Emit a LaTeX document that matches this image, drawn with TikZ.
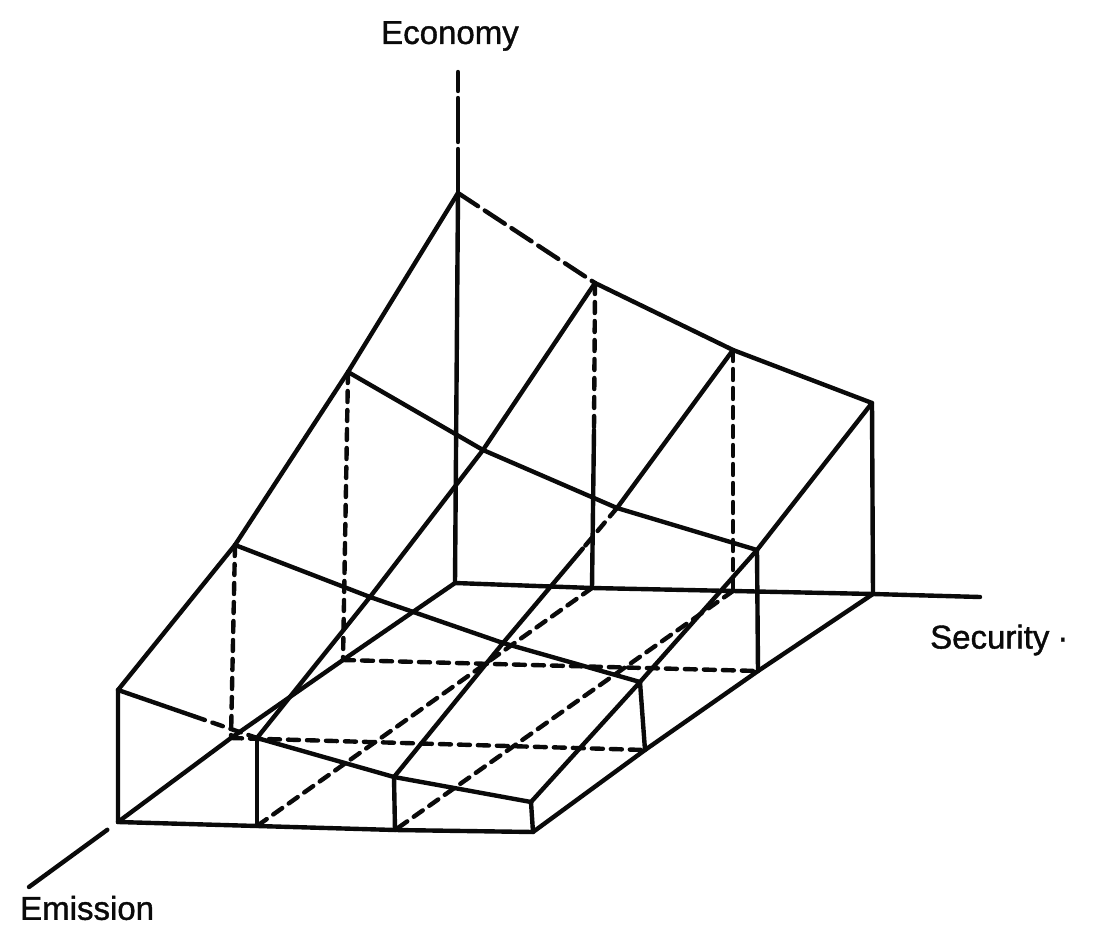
\documentclass[tikz,border=0pt]{standalone}
\usepackage{fontspec}
\setmainfont{Liberation Sans}
\newfontfamily\lblfont{Liberation Sans}[RawFeature={embolden=1.2}]
\definecolor{InkBlack}{HTML}{0A0A0A}
\usetikzlibrary{calc}

\begin{document}
\begin{tikzpicture}[
    x=1pt, y=-1pt,
    wire/.style={draw=InkBlack, line width=4.4pt, line cap=round, line join=round},
    hid/.style={wire, dash pattern=on 11pt off 8pt},
    longhid/.style={wire, dash pattern=on 24pt off 8pt},
    lbl/.style={font=\lblfont\fontsize{33}{36}\selectfont, text=InkBlack, inner sep=0pt, anchor=west}
  ]
  \useasboundingbox (0,0) rectangle (1093,936);

  % floor grid
  \coordinate (f00) at (455,583);
  \coordinate (f01) at (592,588);
  \coordinate (f02) at (733,591);
  \coordinate (f03) at (873,594);
  \coordinate (f10) at (343,660);
  \coordinate (f13) at (758,671);
  \coordinate (f20) at (231,738);
  \coordinate (f23) at (645,750);
  \coordinate (f30) at (118,822);
  \coordinate (f31) at (257,826);
  \coordinate (f32) at (395,830);
  \coordinate (f33) at (533,832);
  % top surface
  \coordinate (t00) at (458,193);
  \coordinate (t01) at (595,283);
  \coordinate (t02) at (733,350);
  \coordinate (t03) at (872,403);
  \coordinate (t10) at (348,372);
  \coordinate (t11) at (483,450);
  \coordinate (t12) at (617,508);
  \coordinate (t13) at (757,550);
  \coordinate (t20) at (235,545);
  \coordinate (t21) at (370,597);
  \coordinate (t22) at (503,643);
  \coordinate (t23) at (640,682);
  \coordinate (t30) at (118,690);
  \coordinate (t31) at (257,738);
  \coordinate (t32) at (394,777);
  \coordinate (t33) at (531,802);
  % axis ends and breaks
  \coordinate (econtop) at (458,72);
  \coordinate (sectop) at (980,597);
  \coordinate (emisend) at (29,887);
  \coordinate (emis0) at ($(f30)!0.12!(emisend)$);
  \coordinate (v01) at (594,430);
  \coordinate (m12) at ($(t12)!0.3!(t22)$);
  \coordinate (m30) at ($(t30)!0.55!(t31)$);

  % axes
  \draw[wire, dash pattern=on 44pt off 7pt] (t00) -- (econtop);
  \draw[wire] (f00) -- (t00);
  \draw[wire] (f00) -- (f01) -- (f02) -- (f03) -- (sectop);
  \draw[wire] (emis0) -- (emisend);

  % back face
  \draw[longhid] (t00) -- (t01);
  \draw[wire] (t01) -- (t02) -- (t03) -- (f03);
  \draw[hid] (t01) -- (v01);
  \draw[wire] (v01) -- (f01);
  \draw[hid] (t02) -- (f02);

  % left face
  \draw[wire] (t00) -- (t10) -- (t20) -- (t30) -- (f30);
  \draw[wire] (f00) -- (f10) -- (f20) -- (f30);
  \draw[hid] (t10) -- (f10);
  \draw[hid] (t20) -- (f20);

  % hidden floor lines
  \draw[hid] (f10) -- (f13);
  \draw[hid] (f20) -- (f23);
  \draw[hid] (f01) -- (f31);
  \draw[hid] (f02) -- (f32);

  % surface grid
  \draw[wire] (t10) -- (t11) -- (t12) -- (t13);
  \draw[wire] (t20) -- (t21) -- (t22) -- (t23);
  \draw[wire] (t30) -- (m30);
  \draw[hid] (m30) -- (t31);
  \draw[wire] (t31) -- (t32) -- (t33);
  \draw[wire] (t01) -- (t11) -- (t21) -- (t31);
  \draw[wire] (t02) -- (t12);
  \draw[hid] (t12) -- (m12);
  \draw[wire] (m12) -- (t22) -- (t32);
  \draw[wire] (t03) -- (t13) -- (t23) -- (t33);

  % front and right faces
  \draw[wire] (f30) -- (f31) -- (f32) -- (f33) -- (f23) -- (f13) -- (f03);
  \draw[wire] (t31) -- (f31);
  \draw[wire] (t32) -- (f32);
  \draw[wire] (t33) -- (f33);
  \draw[wire] (t13) -- (f13);
  \draw[wire] (t23) -- (f23);

  % labels
  \node[lbl] (econ) at (381,36) {Economy};
  \node[lbl] (secu) at (930,640) {Security\hspace{8pt}·};
  \node[lbl] (emis) at (20,908) {Emission};
\end{tikzpicture}
\end{document}
